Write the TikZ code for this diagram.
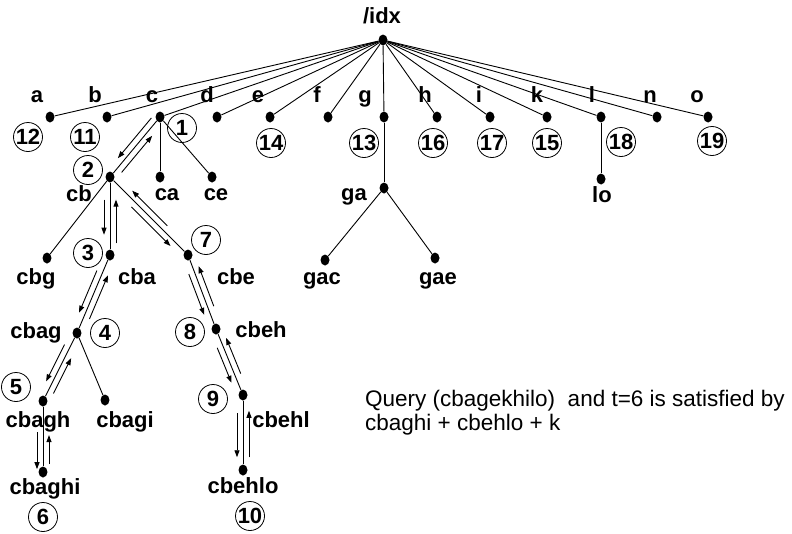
\documentclass[tikz,border=0pt]{standalone}
\usepackage{fontspec}
\setmainfont{Liberation Sans}
\usetikzlibrary{calc,arrows.meta,shapes.geometric}

% traversal arrow beside the edge #1 -> #2, running from fraction #3 to #4,
% kept on the right-hand side of the direction of travel
\newcommand\travel[4]{%
  \draw[trav] ($(#1)!#3!(#2)!6pt!-90:(#2)$) -- ($(#1)!#4!(#2)!6pt!-90:(#2)$);}

\begin{document}
\begin{tikzpicture}[x=1pt,y=-1pt,
  dot/.style={ellipse,fill=black,inner sep=0pt,minimum width=9pt,minimum height=11pt},
  lab/.style={anchor=base,inner sep=0pt,font=\fontsize{22}{26}\selectfont\bfseries},
  num/.style={circle,draw,line width=0.8pt,minimum size=29pt,inner sep=0pt,
              font=\fontsize{22}{26}\selectfont\bfseries},
  edge/.style={line width=0.9pt},
  trav/.style={line width=0.9pt,-{Triangle[length=7pt,width=5pt]}},
  note/.style={anchor=base west,inner sep=0pt,font=\fontsize{22.5}{26}\selectfont},
]
\useasboundingbox (0,0) rectangle (792,533);

% root
\node[dot] (idx) at (383,40) {};
\node[lab] (lidx) at (382,23) {/idx};

% first level
\foreach \n/\x in {a/50,b/107,c/160,d/217,e/270,f/328,g/384,h/437,i/490,k/547,l/601,n/657,o/708}{
  \node[dot] (\n) at (\x,117) {};
  \draw[edge] (idx) -- (\n);
}
\foreach \n/\x in {a/37,b/95,c/152,d/207,e/258,f/317,g/365,h/425,i/479,k/537,l/592,n/650,o/697}
  \node[lab] (l\n) at (\x,102) {\n};

% deeper nodes
\node[dot] (cb) at (110,177) {};
\node[dot] (ca) at (160,177) {};
\node[dot] (ce) at (212,177) {};
\node[dot] (ga) at (384,188) {};
\node[dot] (lo) at (601,179) {};
\node[dot] (cbg) at (47,258) {};
\node[dot] (cba) at (110,255) {};
\node[dot] (cbe) at (188,255) {};
\node[dot] (gac) at (325,260) {};
\node[dot] (gae) at (435,258) {};
\node[dot] (cbag) at (77,333) {};
\node[dot] (cbeh) at (216,329) {};
\node[dot] (cbagh) at (43,401) {};
\node[dot] (cbagi) at (105,400) {};
\node[dot] (cbehl) at (243,395) {};
\node[dot] (cbaghi) at (43,472) {};
\node[dot] (cbehlo) at (243,470) {};

\foreach \p/\q in {c/cb,c/ca,c/ce,g/ga,l/lo,cb/cbg,cb/cba,cb/cbe,ga/gac,ga/gae,
                   cba/cbag,cbe/cbeh,cbag/cbagh,cbag/cbagi,cbeh/cbehl,cbagh/cbaghi,cbehl/cbehlo}
  \draw[edge] (\p) -- (\q);

% labels of deeper nodes
\node[lab] (lcb) at (79,201) {cb};
\node[lab] (lca) at (167,200) {ca};
\node[lab] (lce) at (216,200) {ce};
\node[lab] (lga) at (354,200) {ga};
\node[lab] (llo) at (602,202) {lo};
\node[lab] (lcbg) at (36,284) {cbg};
\node[lab] (lcba) at (137,284) {cba};
\node[lab] (lcbe) at (236,284) {cbe};
\node[lab] (lgac) at (322,284) {gac};
\node[lab] (lgae) at (438,284) {gae};
\node[lab] (lcbag) at (36,338) {cbag};
\node[lab] (lcbeh) at (261,337) {cbeh};
\node[lab] (lcbagh) at (38,427) {cbagh};
\node[lab] (lcbagi) at (125,427) {cbagi};
\node[lab] (lcbehl) at (281,427) {cbehl};
\node[lab] (lcbaghi) at (45,494) {cbaghi};
\node[lab] (lcbehlo) at (243,493) {cbehlo};

% visiting order
\node[num] (n1) at (182,128) {1};
\node[num] (n2) at (88,170) {2};
\node[num] (n3) at (88,253) {3};
\node[num] (n4) at (105,333) {4};
\node[num] (n5) at (16,387) {5};
\node[num] (n6) at (43,517) {6};
\node[num] (n7) at (206,240) {7};
\node[num] (n8) at (190,332) {8};
\node[num] (n9) at (213,399) {9};
\node[num] (n10) at (250,516) {10};
\node[num] (n11) at (85,137) {11};
\node[num] (n12) at (28,137) {12};
\node[num] (n13) at (364,143) {13};
\node[num] (n14) at (271,143) {14};
\node[num] (n15) at (547,143) {15};
\node[num] (n16) at (433,143) {16};
\node[num] (n17) at (492,143) {17};
\node[num] (n18) at (621,142) {18};
\node[num] (n19) at (712,141) {19};

% depth-first traversal, down and back up
\travel{c}{cb}{0.08}{0.75}      \travel{cb}{c}{0.14}{0.75}
\travel{cb}{cba}{0.29}{0.74}    \travel{cba}{cb}{0.15}{0.71}
\travel{cb}{cbe}{0.33}{0.83}    \travel{cbe}{cb}{0.32}{0.77}
\travel{cba}{cbag}{0.23}{0.77}  \travel{cbag}{cba}{0.21}{0.77}
\travel{cbe}{cbeh}{0.23}{0.78}  \travel{cbeh}{cbe}{0.28}{0.82}
\travel{cbag}{cbagh}{0.21}{0.75} \travel{cbagh}{cbag}{0.15}{0.67}
\travel{cbagh}{cbaghi}{0.44}{0.96} \travel{cbaghi}{cbagh}{0.11}{0.52}
\travel{cbeh}{cbehl}{0.25}{0.78} \travel{cbehl}{cbeh}{0.29}{0.83}
\travel{cbehl}{cbehlo}{0.24}{0.83} \travel{cbehlo}{cbehl}{0.17}{0.79}

% query note
\node[note] (q1) at (365,406) {Query (cbagekhilo)~ and t=6 is satisfied by};
\node[note] (q2) at (365,430) {cbaghi + cbehlo + k};
\end{tikzpicture}
\end{document}
